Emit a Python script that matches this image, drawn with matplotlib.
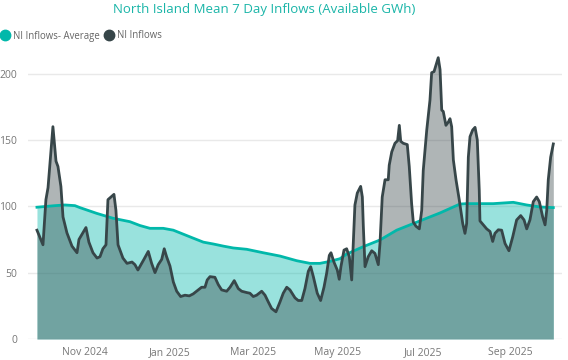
import numpy as np
import pandas as pd
import matplotlib
matplotlib.use("Agg")
import matplotlib.pyplot as plt
import matplotlib.dates as mdates
from matplotlib.lines import Line2D

# days after the first point, and the values
start = "2024-09-28"
inflow_days = [0, 4.3, 6.4, 7.9, 11.4, 13.6, 15, 17.1, 18.6, 21.4, 25, 28.6, 30, 35, 37.1, 40, 42.9, 45,
               47.1, 49.3, 50.7, 52.9, 55, 56.4, 57.9, 61.4, 64.3, 67.9, 70, 72.1, 74.8, 76.4, 79.5, 81.9,
               84.3, 86.6, 89.1, 90.9, 92.6, 95, 97.4, 99.8, 102.6, 105.7, 108.8, 111.6, 115.2, 117.6, 120,
               121.6, 123.6, 127.1, 129.5, 131.9, 135.5, 137.9, 140.9, 143.8, 146.2, 149.8, 152.1, 154.5,
               156.9, 160.5, 162.9, 165.2, 167.6, 170.7, 173.6, 175.9, 178.4, 180.7, 184.3, 186.6, 189.1,
               191.4, 193.8, 195.5, 197.4, 200.2, 202.6, 205, 206.9, 208.8, 210, 212.1, 214.5, 215.9, 217.1,
               219.3, 221.2, 223.1, 224.8, 225.9, 227.1, 228.8, 231.2, 232.4, 233.1, 234.3, 236.6, 239.1,
               241.4, 243.8, 245, 246.6, 248.6, 250.9, 251.6, 253.4, 255.7, 257.6, 258.8, 259.8, 261.6,
               264.5, 265.9, 267.6, 268.8, 270.7, 273.1, 274.8, 275.9, 278.4, 280.7, 281.9, 283.6, 285.5,
               286.6, 287.9, 289.1, 290.2, 292.1, 293.8, 295, 296.2, 297.4, 299.3, 301.6, 304.1, 305.7,
               306.9, 308.1, 309.3, 311.2, 312.9, 314.5, 315.9, 316.4, 318.8, 321.2, 323.6, 325.5, 327.1,
               329.5, 331.9, 334.3, 337.1, 339.8, 342.6, 345.5, 347.9, 349.8, 352.1, 354.5, 356.9, 358.8,
               361.2, 362.9, 364.1, 365.2, 366.9, 368.8]
inflow_vals = [82, 71, 105, 114, 160, 134, 130, 115, 92, 80, 70, 65, 75, 84, 73, 65, 61, 62,
               68, 71, 105, 107, 109, 97, 71, 61, 57, 58, 56, 52, 57, 60, 66, 57,
               50, 56, 60, 68, 62, 55, 43, 36, 32, 33, 32.5, 34, 37, 39, 39,
               44.5, 47, 46.5, 41, 37, 36, 39, 44, 38, 36, 35, 34.5, 32,
               33, 36, 33, 28, 23, 20.5, 28, 34.5, 39, 37, 31, 29, 29,
               38, 51, 54.5, 47, 34.5, 29, 39, 49.5, 63, 65, 58, 52, 45, 54.5,
               67, 68, 62, 44.5, 72, 101, 110, 115, 107, 85, 54.5, 62, 66.5,
               64.5, 56, 72, 107, 120, 120, 131, 141, 147.5, 149.5, 161, 149, 147.5,
               146.5, 130, 102, 88, 85, 83, 97, 127, 157.5, 180, 200.7, 201.5, 208,
               212, 203, 172.5, 171.5, 161, 163.5, 166, 160, 135, 120, 105, 87, 79.6,
               87, 137, 152.5, 157.5, 159.5, 150, 112, 89, 86, 83, 81, 73.5, 79.6,
               82.3, 82, 72, 66.5, 77, 89.7, 93, 89.7, 83, 89.7, 103.5, 107, 103.5,
               92, 86, 97, 120, 137, 147]

avg_days = [0, 12.9, 20, 27.1, 30.7, 42.6, 54.3, 66.4, 73.6, 80.7, 90.2, 97.4, 104.5, 111.6, 118.8,
            125.9, 133.1, 140.2, 149.8, 161.6, 173.6, 185.5, 195, 202.1, 209.3, 216.4, 221.2, 233.1,
            245, 256.9, 268.8, 280.7, 287.9, 297.4, 302.1, 306.9, 325.9, 340.2, 349.8, 359.3, 368.8]
avg_vals = [99.3, 100.5, 101, 100.5, 99, 94.7, 91, 88.4, 85.5, 83.4, 83.4, 82, 79, 76, 73,
            71.6, 70, 68.6, 67.6, 65, 62.5, 59, 57, 57, 58.5, 60.5, 64, 69.6,
            74.6, 82, 87, 92, 95, 99.5, 101.7, 102, 102, 103, 101, 99.5, 99]

month_ticks = ["2024-11-01", "2025-01-01", "2025-03-01", "2025-05-01", "2025-07-01", "2025-09-01"]

t0 = pd.Timestamp(start)
x_in = t0 + pd.to_timedelta(inflow_days, unit="D")
x_avg = t0 + pd.to_timedelta(avg_days, unit="D")

teal = "#01B8AA"
dark = "#374649"

plt.rcParams['font.family'] = ['Open Sans', 'DejaVu Sans']

fig = plt.figure(figsize=(5.68, 3.6), dpi=100)
ax = fig.add_axes([28 / 568, 21 / 360, 534 / 568, 285.3 / 360])

ax.fill_between(x_avg, avg_vals, 0, color=teal, alpha=0.4, lw=0)
ax.plot(x_avg, avg_vals, color=teal, lw=2)
ax.fill_between(x_in, inflow_vals, 0, color=dark, alpha=0.4, lw=0)
ax.plot(x_in, inflow_vals, color=dark, lw=2, solid_joinstyle="round")

ax.set_ylim(0, 215)
ax.set_xlim(t0 - pd.Timedelta(days=6.4), t0 + pd.Timedelta(days=375))
ax.set_yticks([0, 50, 100, 150, 200])
ax.set_xticks(pd.to_datetime(month_ticks))
ax.xaxis.set_major_formatter(mdates.DateFormatter("%b %Y"))
ax.grid(axis="y", color="#e9e9e9", lw=1)
ax.set_axisbelow(True)
for s in ax.spines.values():
    s.set_visible(False)
ax.tick_params(length=0, labelsize=7.5, labelcolor="#777777")
ax.tick_params(axis="y", pad=8)
ax.tick_params(axis="x", pad=6)

fig.text(264 / 568, 1 - 9 / 360, "North Island Mean 7 Day Inflows (Available GWh)",
         ha="center", va="center", color="#1ab5a8", fontsize=9.5)

handles = [Line2D([], [], ls="", marker="o", ms=7.5, color=teal),
           Line2D([], [], ls="", marker="o", ms=7.5, color=dark)]
fig.legend(handles, ["NI Inflows- Average", "NI Inflows"], loc="center left",
           bbox_to_anchor=(-0.014, 1 - 36 / 360), ncol=2, frameon=False, fontsize=6.9,
           handlelength=0.9, handletextpad=0.35, columnspacing=0.6, labelcolor="#666666")

fig.savefig("out.png", dpi=100)
